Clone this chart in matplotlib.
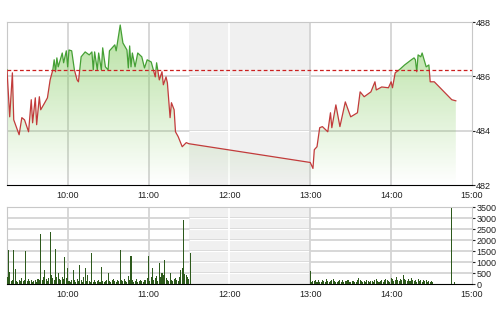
import numpy as np
import matplotlib.pyplot as plt
from matplotlib.patches import Rectangle
from matplotlib.colors import LinearSegmentedColormap

# intraday price (time, value)
price_times = ['9:15', '9:17', '9:19', '9:20', '9:24', '9:26', '9:28', '9:31', '9:33', '9:34',
               '9:36', '9:37', '9:39', '9:40', '9:43', '9:45', '9:47', '9:49', '9:50', '9:51',
               '9:52', '9:53', '9:56', '9:57', '9:59', '10:00', '10:01', '10:03', '10:05', '10:07',
               '10:08', '10:10', '10:13', '10:16', '10:18', '10:19', '10:20', '10:22', '10:23', '10:25',
               '10:26', '10:28', '10:30', '10:31', '10:35', '10:36', '10:39', '10:41', '10:44', '10:45',
               '10:46', '10:47', '10:48', '10:50', '10:52', '10:55', '10:57', '10:59', '11:02', '11:05',
               '11:06', '11:08', '11:10', '11:11', '11:13', '11:14', '11:16', '11:17', '11:19', '11:20',
               '11:22', '11:25', '11:28', '11:30',
               '13:00', '13:02', '13:03', '13:05', '13:07', '13:09', '13:13', '13:15', '13:16', '13:19',
               '13:22', '13:26', '13:30', '13:35', '13:37', '13:40', '13:45', '13:48', '13:49', '13:53',
               '13:58', '14:00', '14:01', '14:03', '14:06', '14:10', '14:15', '14:17', '14:18', '14:19',
               '14:20', '14:22', '14:23', '14:26', '14:28', '14:29', '14:32', '14:45', '14:48']
price_values = [486.24, 484.51, 486.13, 484.40, 483.85, 484.48, 484.40, 483.96, 485.14, 484.29,
                485.21, 484.22, 485.25, 484.77, 485.03, 485.21, 485.87, 486.24, 486.61, 486.17,
                486.68, 486.35, 486.86, 486.50, 486.94, 486.35, 486.97, 486.94, 486.24, 485.87,
                485.80, 486.72, 486.90, 486.79, 486.90, 486.24, 486.90, 486.24, 486.86, 486.24,
                487.05, 486.35, 486.24, 486.94, 487.16, 486.94, 487.89, 487.23, 486.97, 486.31,
                487.12, 486.35, 486.86, 486.35, 486.86, 486.72, 486.31, 486.61, 486.53, 485.98,
                486.50, 485.87, 486.17, 485.69, 485.98, 485.76, 484.48, 485.03, 484.77, 483.96,
                483.78, 483.41, 483.56, 483.52,
                482.83, 482.61, 483.30, 483.41, 484.11, 484.15, 483.96, 484.66, 484.11, 484.95,
                484.15, 485.06, 484.51, 484.66, 485.43, 485.25, 485.43, 485.80, 485.50, 485.61,
                485.58, 485.80, 485.58, 486.13, 486.24, 486.42, 486.61, 486.68, 486.61, 486.17,
                486.79, 486.72, 486.86, 486.35, 486.42, 485.80, 485.80, 485.14, 485.10]
ref_price = 486.22

# volume per minute, 9:15 onwards
vol_am = [300, 1550, 550, 120, 200, 1550, 700, 150, 90, 200,
          120, 270, 150, 180, 1500, 140, 220, 120, 180, 90,
          150, 200, 110, 240, 160, 2270, 180, 300, 640, 220,
          150, 260, 2360, 400, 280, 180, 1590, 320, 500, 250,
          180, 300, 220, 1230, 260, 730, 150, 90, 200, 640,
          160, 80, 220, 140, 860, 180, 100, 300, 730, 150,
          400, 120, 90, 1400, 110, 160, 80, 130, 200, 100,
          770, 150, 90, 120, 180, 500, 140, 80, 160, 230,
          120, 90, 200, 150, 1550, 180, 120, 250, 140, 100,
          360, 200, 1270, 160, 90, 140, 220, 110, 150, 180,
          130, 90, 200, 160, 280, 1270, 150, 320, 730, 200,
          260, 380, 150, 950, 300, 500, 420, 1090, 260, 180,
          150, 500, 200, 140, 230, 270, 180, 150, 320, 640,
          720, 2900, 450, 400, 300, 250, 1400]
# volume per minute, 13:00 onwards
vol_pm = [590, 80, 150, 120, 200, 90, 160, 110, 70, 180, 130,
          100, 220, 150, 90, 120, 170, 250, 140, 100, 80,
          130, 200, 110, 160, 90, 140, 120, 180, 100, 70,
          150, 130, 90, 110, 160, 270, 200, 120, 90, 140,
          100, 180, 120, 80, 130, 150, 100, 170, 220, 120,
          90, 140, 200, 110, 160, 250, 180, 130, 100, 270,
          220, 150, 190, 300, 200, 120, 250, 160, 400, 220,
          180, 130, 210, 150, 280, 200, 120, 160, 90, 230,
          140, 180, 110, 200, 130, 160, 90, 120, 100, 140, 80]
atc_times = ['14:45', '14:47']
atc_vol = [3450, 80]

hour_ticks = [10, 11, 12, 13, 14, 15]
hour_labels = ['10:00', '11:00', '12:00', '13:00', '14:00', '15:00']


def to_hours(t):
    h, m = t.split(':')
    return int(h) + int(m) / 60


px = np.array([to_hours(t) for t in price_times])
py = np.array(price_values)
vx = np.concatenate([9.25 + np.arange(len(vol_am)) / 60,
                     13 + np.arange(len(vol_pm)) / 60,
                     [to_hours(t) for t in atc_times]])
vy = np.concatenate([vol_am, vol_pm, atc_vol])

plt.rcParams['font.family'] = ['Liberation Sans', 'DejaVu Sans']
fig = plt.figure(figsize=(5, 3.12), dpi=100)
ax = fig.add_axes([0.014, 0.407, 0.93, 0.5224])
ax2 = fig.add_axes([0.014, 0.0897, 0.93, 0.2468])

x0, x1 = 9.25, 15
grid_c = '#d4d4d4'

for a, yt in ((ax, [482, 484, 486, 488]), (ax2, list(range(0, 3501, 500)))):
    a.set_xlim(x0, x1)
    a.axvspan(11.5, 13, color='#f0f0f0', lw=0, zorder=0)
    for h in hour_ticks[:-1]:
        a.axvline(h, color='white' if 11.5 < h < 13 else grid_c, lw=1.3, zorder=0.6)
    for v in yt[1:-1] if a is ax else yt[1:]:
        a.axhline(v, color=grid_c, lw=1.3, zorder=0.5)
        a.hlines(v, 11.5, 13, color='white', lw=0.9, zorder=0.55)
    a.set_xticks(hour_ticks)
    a.set_xticklabels(hour_labels)
    a.set_yticks(yt)
    a.yaxis.tick_right()
    a.tick_params(axis='x', length=0, pad=4, labelsize=6.5, colors='#222222')
    a.tick_params(axis='y', length=2, pad=1, labelsize=6.5, colors='#222222')
    for s in ('top', 'left', 'right'):
        a.spines[s].set_color('#c8c8c8')
    a.spines['bottom'].set_color('black')

# price panel
cmap = LinearSegmentedColormap.from_list('g', [(0.47, 0.78, 0.31, 0.0), (0.47, 0.78, 0.31, 0.55)])
grad = np.linspace(0, 1, 256).reshape(-1, 1)
im = ax.imshow(grad, extent=[x0, x1, 482, 488], origin='lower', aspect='auto', cmap=cmap, zorder=2)
poly = ax.fill_between(px, py, 482, facecolor='none', edgecolor='none')
im.set_clip_path(poly.get_paths()[0], transform=ax.transData)

ln_g, = ax.plot(px, py, color='#45a035', lw=0.9, zorder=4)
ln_r, = ax.plot(px, py, color='#c23b3b', lw=0.9, zorder=4)
ln_g.set_clip_path(Rectangle((x0, ref_price), 6, 10, transform=ax.transData))
ln_r.set_clip_path(Rectangle((x0, 470), 6, ref_price - 470, transform=ax.transData))
ax.axhline(ref_price, color='#cc1f1f', ls=(0, (3, 2)), lw=0.9, zorder=5)
ax.set_ylim(482, 488)

# volume panel
ax2.bar(vx, vy, width=0.75 / 60, color='#2d5a1c', zorder=3)
ax2.set_ylim(0, 3500)

fig.savefig('out.png', dpi=100)
